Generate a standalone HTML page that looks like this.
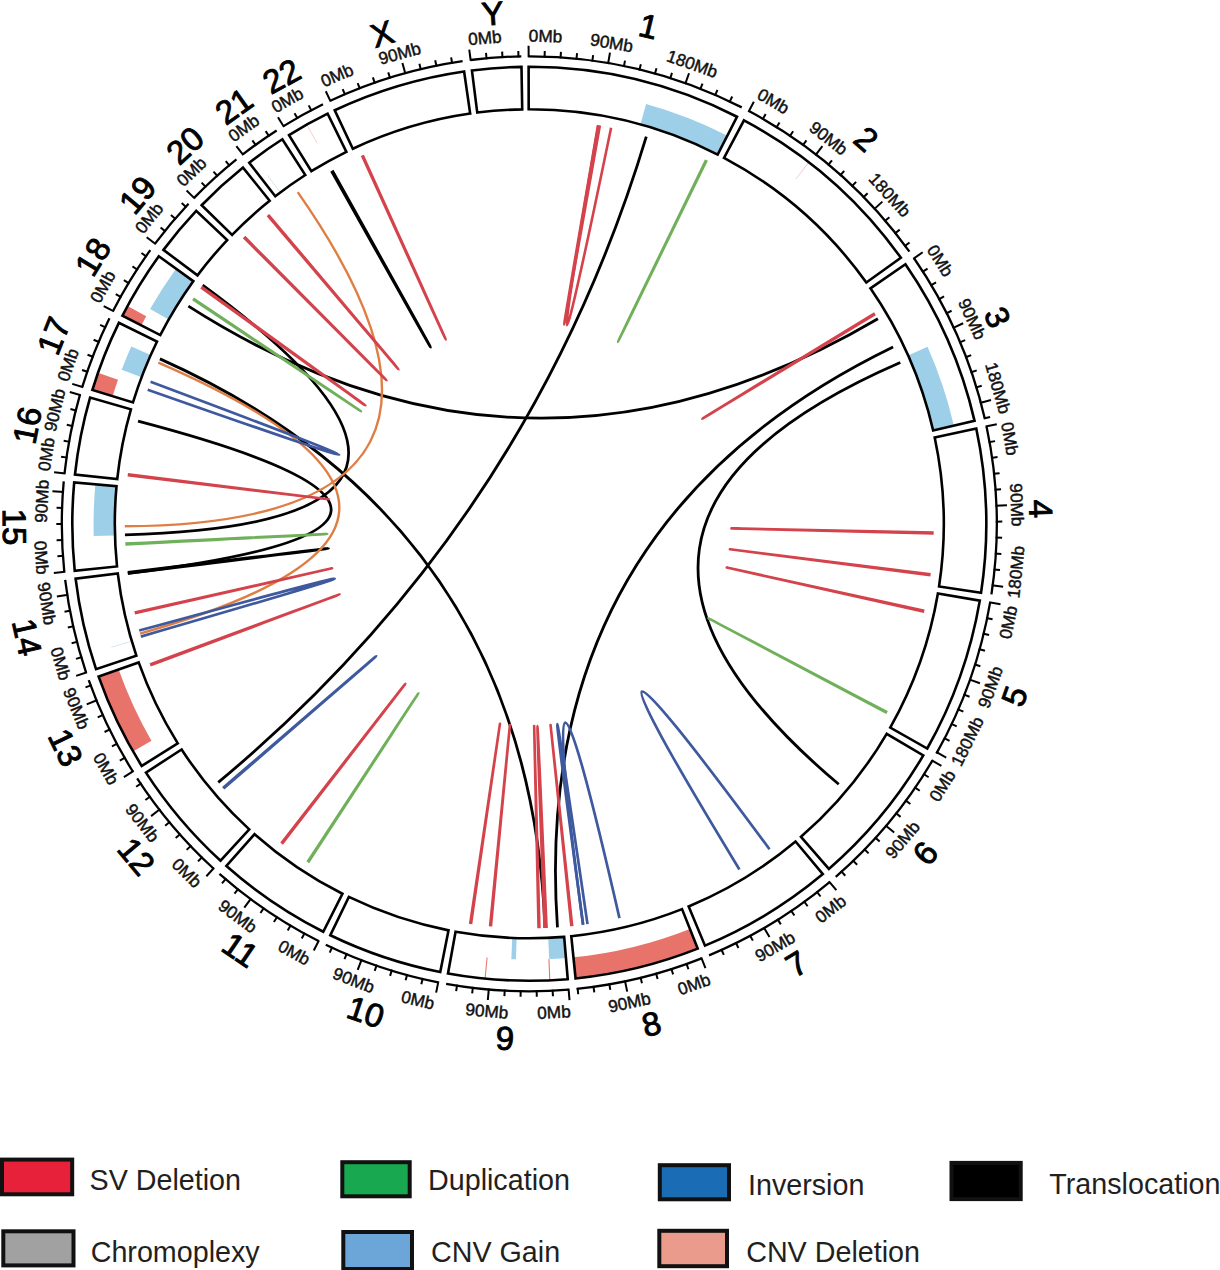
<!DOCTYPE html>
<html><head><meta charset="utf-8"><style>
html,body{margin:0;padding:0;background:#fff;}
body{width:1220px;height:1270px;position:relative;overflow:hidden;font-family:"Liberation Sans",sans-serif;}
svg{position:absolute;left:0;top:0;}
.tl{font-family:"Liberation Sans",sans-serif;font-size:17.2px;text-anchor:middle;fill:#111;stroke:#111;stroke-width:0.45px;}
.cl{font-family:"Liberation Sans",sans-serif;font-size:33px;text-anchor:middle;fill:#000;stroke:#000;stroke-width:0.9px;}
.lt{font-family:"Liberation Sans",sans-serif;font-size:28.7px;fill:#231f20;}
</style></head><body>
<svg width="1220" height="1270" viewBox="0 0 1220 1270">
<path d="M528.62,66.80 A457.0,457.0 0 0 1 736.99,116.72 L717.68,154.58 A414.5,414.5 0 0 0 528.69,109.30 Z" fill="#fff"/>
<path d="M743.98,120.37 A457.0,457.0 0 0 1 900.88,257.76 L866.32,282.50 A414.5,414.5 0 0 0 724.02,157.88 Z" fill="#fff"/>
<path d="M905.41,264.21 A457.0,457.0 0 0 1 974.56,420.88 L933.15,430.45 A414.5,414.5 0 0 0 870.44,288.35 Z" fill="#fff"/>
<path d="M976.27,428.58 A457.0,457.0 0 0 1 981.05,592.86 L939.04,586.43 A414.5,414.5 0 0 0 934.70,437.43 Z" fill="#fff"/>
<path d="M979.79,600.64 A457.0,457.0 0 0 1 927.24,748.51 L890.23,727.61 A414.5,414.5 0 0 0 937.90,593.49 Z" fill="#fff"/>
<path d="M923.30,755.34 A457.0,457.0 0 0 1 828.85,868.94 L800.99,836.84 A414.5,414.5 0 0 0 886.66,733.81 Z" fill="#fff"/>
<path d="M822.85,874.05 A457.0,457.0 0 0 1 705.00,945.67 L688.66,906.44 A414.5,414.5 0 0 0 795.55,841.48 Z" fill="#fff"/>
<path d="M697.70,948.64 A457.0,457.0 0 0 1 575.60,978.45 L571.29,936.17 A414.5,414.5 0 0 0 682.04,909.13 Z" fill="#fff"/>
<path d="M567.74,979.18 A457.0,457.0 0 0 1 448.00,973.51 L455.56,931.69 A414.5,414.5 0 0 0 564.17,936.83 Z" fill="#fff"/>
<path d="M440.25,972.04 A457.0,457.0 0 0 1 330.33,935.21 L348.84,896.95 A414.5,414.5 0 0 0 448.53,930.35 Z" fill="#fff"/>
<path d="M323.26,931.72 A457.0,457.0 0 0 1 226.41,866.01 L254.58,834.19 A414.5,414.5 0 0 0 342.42,893.78 Z" fill="#fff"/>
<path d="M220.56,860.74 A457.0,457.0 0 0 1 145.96,772.59 L181.61,749.46 A414.5,414.5 0 0 0 249.27,829.40 Z" fill="#fff"/>
<path d="M141.72,765.94 A457.0,457.0 0 0 1 98.62,676.64 L138.67,662.43 A414.5,414.5 0 0 0 177.77,743.42 Z" fill="#fff"/>
<path d="M96.04,669.19 A457.0,457.0 0 0 1 75.60,578.64 L117.79,573.54 A414.5,414.5 0 0 0 136.34,655.67 Z" fill="#fff"/>
<path d="M74.72,570.80 A457.0,457.0 0 0 1 74.18,482.34 L116.51,486.19 A414.5,414.5 0 0 0 117.00,566.43 Z" fill="#fff"/>
<path d="M74.97,474.49 A457.0,457.0 0 0 1 90.08,397.57 L130.92,409.31 A414.5,414.5 0 0 0 117.22,479.07 Z" fill="#fff"/>
<path d="M92.32,390.01 A457.0,457.0 0 0 1 118.87,322.81 L157.04,341.51 A414.5,414.5 0 0 0 132.96,402.46 Z" fill="#fff"/>
<path d="M122.40,315.76 A457.0,457.0 0 0 1 158.80,256.26 L193.26,281.14 A414.5,414.5 0 0 0 160.24,335.11 Z" fill="#fff"/>
<path d="M163.47,249.90 A457.0,457.0 0 0 1 196.20,210.92 L227.18,240.02 A414.5,414.5 0 0 0 197.49,275.38 Z" fill="#fff"/>
<path d="M201.65,205.22 A457.0,457.0 0 0 1 243.03,167.57 L269.65,200.70 A414.5,414.5 0 0 0 232.12,234.85 Z" fill="#fff"/>
<path d="M249.22,162.68 A457.0,457.0 0 0 1 282.35,139.27 L305.31,175.03 A414.5,414.5 0 0 0 275.27,196.27 Z" fill="#fff"/>
<path d="M289.02,135.07 A457.0,457.0 0 0 1 327.63,113.70 L346.39,151.84 A414.5,414.5 0 0 0 311.36,171.22 Z" fill="#fff"/>
<path d="M334.74,110.28 A457.0,457.0 0 0 1 464.11,71.47 L470.17,113.54 A414.5,414.5 0 0 0 352.83,148.74 Z" fill="#fff"/>
<path d="M471.92,70.42 A457.0,457.0 0 0 1 521.49,66.87 L522.21,109.36 A414.5,414.5 0 0 0 477.26,112.58 Z" fill="#fff"/>
<path d="M646.08,103.99 A435.75,435.75 0 0 1 727.34,135.65 L717.68,154.58 A414.5,414.5 0 0 0 640.38,124.46 Z" fill="#9dcfe8"/>
<path d="M808.57,162.06 A457.0,457.0 0 0 1 808.99,162.38 L795.98,179.19 A435.75,435.75 0 0 0 795.59,178.88 Z" fill="#ebb3ad"/>
<path d="M927.50,346.84 A435.75,435.75 0 0 1 953.86,425.67 L933.15,430.45 A414.5,414.5 0 0 0 908.08,355.47 Z" fill="#9dcfe8"/>
<path d="M697.70,948.64 A457.0,457.0 0 0 1 575.60,978.45 L573.44,957.31 A435.75,435.75 0 0 0 689.87,928.89 Z" fill="#e8736b"/>
<path d="M565.96,958.01 A435.75,435.75 0 0 1 549.18,959.10 L548.21,937.87 A414.5,414.5 0 0 0 564.17,936.83 Z" fill="#9dcfe8"/>
<path d="M515.97,959.35 A435.75,435.75 0 0 1 511.33,959.18 L512.21,937.95 A414.5,414.5 0 0 0 516.62,938.11 Z" fill="#9dcfe8"/>
<path d="M550.41,980.31 A457.0,457.0 0 0 1 549.28,980.36 L548.35,959.13 A435.75,435.75 0 0 0 549.43,959.08 Z" fill="#e8736b"/>
<path d="M485.59,978.70 A457.0,457.0 0 0 1 484.55,978.60 L486.63,957.46 A435.75,435.75 0 0 0 487.62,957.55 Z" fill="#e8736b"/>
<path d="M133.01,751.41 A457.0,457.0 0 0 1 98.62,676.65 L118.64,669.54 A435.75,435.75 0 0 0 151.44,740.83 Z" fill="#e8736b"/>
<path d="M111.50,647.58 A435.75,435.75 0 0 1 111.36,647.10 L131.74,641.09 A414.5,414.5 0 0 0 131.87,641.54 Z" fill="#b3d3df"/>
<path d="M93.72,535.97 A435.75,435.75 0 0 1 95.35,484.26 L116.51,486.19 A414.5,414.5 0 0 0 114.96,535.38 Z" fill="#9dcfe8"/>
<path d="M92.32,390.01 A457.0,457.0 0 0 1 97.95,372.85 L118.01,379.86 A435.75,435.75 0 0 0 112.64,396.24 Z" fill="#e8736b"/>
<path d="M121.69,369.75 A435.75,435.75 0 0 1 131.27,346.46 L150.68,355.11 A414.5,414.5 0 0 0 141.57,377.26 Z" fill="#9dcfe8"/>
<path d="M122.40,315.76 A457.0,457.0 0 0 1 127.54,306.00 L146.22,316.13 A435.75,435.75 0 0 0 141.32,325.44 Z" fill="#e8736b"/>
<path d="M150.11,309.10 A435.75,435.75 0 0 1 176.03,268.70 L193.25,281.14 A414.5,414.5 0 0 0 168.61,319.57 Z" fill="#9dcfe8"/>
<path d="M267.31,175.60 A435.75,435.75 0 0 1 267.71,175.31 L280.47,192.30 A414.5,414.5 0 0 0 280.09,192.58 Z" fill="#b3d3df"/>
<path d="M306.54,124.77 A457.0,457.0 0 0 1 307.00,124.51 L317.33,143.08 A435.75,435.75 0 0 0 316.90,143.32 Z" fill="#ebb3ad"/>
<path d="M528.62,66.80 A457.0,457.0 0 0 1 736.99,116.72 L717.68,154.58 A414.5,414.5 0 0 0 528.69,109.30 Z" fill="none" stroke="#000" stroke-width="2.6" stroke-linejoin="miter"/>
<path d="M743.98,120.37 A457.0,457.0 0 0 1 900.88,257.76 L866.32,282.50 A414.5,414.5 0 0 0 724.02,157.88 Z" fill="none" stroke="#000" stroke-width="2.6" stroke-linejoin="miter"/>
<path d="M905.41,264.21 A457.0,457.0 0 0 1 974.56,420.88 L933.15,430.45 A414.5,414.5 0 0 0 870.44,288.35 Z" fill="none" stroke="#000" stroke-width="2.6" stroke-linejoin="miter"/>
<path d="M976.27,428.58 A457.0,457.0 0 0 1 981.05,592.86 L939.04,586.43 A414.5,414.5 0 0 0 934.70,437.43 Z" fill="none" stroke="#000" stroke-width="2.6" stroke-linejoin="miter"/>
<path d="M979.79,600.64 A457.0,457.0 0 0 1 927.24,748.51 L890.23,727.61 A414.5,414.5 0 0 0 937.90,593.49 Z" fill="none" stroke="#000" stroke-width="2.6" stroke-linejoin="miter"/>
<path d="M923.30,755.34 A457.0,457.0 0 0 1 828.85,868.94 L800.99,836.84 A414.5,414.5 0 0 0 886.66,733.81 Z" fill="none" stroke="#000" stroke-width="2.6" stroke-linejoin="miter"/>
<path d="M822.85,874.05 A457.0,457.0 0 0 1 705.00,945.67 L688.66,906.44 A414.5,414.5 0 0 0 795.55,841.48 Z" fill="none" stroke="#000" stroke-width="2.6" stroke-linejoin="miter"/>
<path d="M697.70,948.64 A457.0,457.0 0 0 1 575.60,978.45 L571.29,936.17 A414.5,414.5 0 0 0 682.04,909.13 Z" fill="none" stroke="#000" stroke-width="2.6" stroke-linejoin="miter"/>
<path d="M567.74,979.18 A457.0,457.0 0 0 1 448.00,973.51 L455.56,931.69 A414.5,414.5 0 0 0 564.17,936.83 Z" fill="none" stroke="#000" stroke-width="2.6" stroke-linejoin="miter"/>
<path d="M440.25,972.04 A457.0,457.0 0 0 1 330.33,935.21 L348.84,896.95 A414.5,414.5 0 0 0 448.53,930.35 Z" fill="none" stroke="#000" stroke-width="2.6" stroke-linejoin="miter"/>
<path d="M323.26,931.72 A457.0,457.0 0 0 1 226.41,866.01 L254.58,834.19 A414.5,414.5 0 0 0 342.42,893.78 Z" fill="none" stroke="#000" stroke-width="2.6" stroke-linejoin="miter"/>
<path d="M220.56,860.74 A457.0,457.0 0 0 1 145.96,772.59 L181.61,749.46 A414.5,414.5 0 0 0 249.27,829.40 Z" fill="none" stroke="#000" stroke-width="2.6" stroke-linejoin="miter"/>
<path d="M141.72,765.94 A457.0,457.0 0 0 1 98.62,676.64 L138.67,662.43 A414.5,414.5 0 0 0 177.77,743.42 Z" fill="none" stroke="#000" stroke-width="2.6" stroke-linejoin="miter"/>
<path d="M96.04,669.19 A457.0,457.0 0 0 1 75.60,578.64 L117.79,573.54 A414.5,414.5 0 0 0 136.34,655.67 Z" fill="none" stroke="#000" stroke-width="2.6" stroke-linejoin="miter"/>
<path d="M74.72,570.80 A457.0,457.0 0 0 1 74.18,482.34 L116.51,486.19 A414.5,414.5 0 0 0 117.00,566.43 Z" fill="none" stroke="#000" stroke-width="2.6" stroke-linejoin="miter"/>
<path d="M74.97,474.49 A457.0,457.0 0 0 1 90.08,397.57 L130.92,409.31 A414.5,414.5 0 0 0 117.22,479.07 Z" fill="none" stroke="#000" stroke-width="2.6" stroke-linejoin="miter"/>
<path d="M92.32,390.01 A457.0,457.0 0 0 1 118.87,322.81 L157.04,341.51 A414.5,414.5 0 0 0 132.96,402.46 Z" fill="none" stroke="#000" stroke-width="2.6" stroke-linejoin="miter"/>
<path d="M122.40,315.76 A457.0,457.0 0 0 1 158.80,256.26 L193.26,281.14 A414.5,414.5 0 0 0 160.24,335.11 Z" fill="none" stroke="#000" stroke-width="2.6" stroke-linejoin="miter"/>
<path d="M163.47,249.90 A457.0,457.0 0 0 1 196.20,210.92 L227.18,240.02 A414.5,414.5 0 0 0 197.49,275.38 Z" fill="none" stroke="#000" stroke-width="2.6" stroke-linejoin="miter"/>
<path d="M201.65,205.22 A457.0,457.0 0 0 1 243.03,167.57 L269.65,200.70 A414.5,414.5 0 0 0 232.12,234.85 Z" fill="none" stroke="#000" stroke-width="2.6" stroke-linejoin="miter"/>
<path d="M249.22,162.68 A457.0,457.0 0 0 1 282.35,139.27 L305.31,175.03 A414.5,414.5 0 0 0 275.27,196.27 Z" fill="none" stroke="#000" stroke-width="2.6" stroke-linejoin="miter"/>
<path d="M289.02,135.07 A457.0,457.0 0 0 1 327.63,113.70 L346.39,151.84 A414.5,414.5 0 0 0 311.36,171.22 Z" fill="none" stroke="#000" stroke-width="2.6" stroke-linejoin="miter"/>
<path d="M334.74,110.28 A457.0,457.0 0 0 1 464.11,71.47 L470.17,113.54 A414.5,414.5 0 0 0 352.83,148.74 Z" fill="none" stroke="#000" stroke-width="2.6" stroke-linejoin="miter"/>
<path d="M471.92,70.42 A457.0,457.0 0 0 1 521.49,66.87 L522.21,109.36 A414.5,414.5 0 0 0 477.26,112.58 Z" fill="none" stroke="#000" stroke-width="2.6" stroke-linejoin="miter"/>
<path d="M528.61,56.30 A467.5,467.5 0 0 1 741.76,107.37" fill="none" stroke="#000" stroke-width="2.3"/>
<line x1="528.61" y1="57.30" x2="528.59" y2="45.80" stroke="#000" stroke-width="2"/>
<text x="545.31" y="42.07" transform="rotate(1.90 545.31 42.07)" class="tl">0Mb</text>
<line x1="544.57" y1="57.55" x2="544.78" y2="51.05" stroke="#000" stroke-width="2"/>
<line x1="560.51" y1="58.35" x2="560.94" y2="51.86" stroke="#000" stroke-width="2"/>
<line x1="576.41" y1="59.69" x2="577.07" y2="53.22" stroke="#000" stroke-width="2"/>
<line x1="592.26" y1="61.57" x2="593.14" y2="55.13" stroke="#000" stroke-width="2"/>
<line x1="608.04" y1="63.99" x2="609.98" y2="52.66" stroke="#000" stroke-width="2"/>
<text x="610.66" y="48.72" transform="rotate(9.72 610.66 48.72)" class="tl">90Mb</text>
<line x1="623.73" y1="66.96" x2="625.04" y2="60.59" stroke="#000" stroke-width="2"/>
<line x1="639.30" y1="70.45" x2="640.83" y2="64.14" stroke="#000" stroke-width="2"/>
<line x1="654.74" y1="74.48" x2="656.49" y2="68.22" stroke="#000" stroke-width="2"/>
<line x1="670.04" y1="79.04" x2="672.00" y2="72.84" stroke="#000" stroke-width="2"/>
<line x1="685.17" y1="84.11" x2="689.02" y2="73.27" stroke="#000" stroke-width="2"/>
<text x="690.35" y="69.50" transform="rotate(19.52 690.35 69.50)" class="tl">180Mb</text>
<line x1="700.13" y1="89.70" x2="702.51" y2="83.65" stroke="#000" stroke-width="2"/>
<line x1="714.88" y1="95.80" x2="717.46" y2="89.84" stroke="#000" stroke-width="2"/>
<line x1="729.41" y1="102.40" x2="732.20" y2="96.53" stroke="#000" stroke-width="2"/>
<text x="648.59" y="25.89" dy="0.36em" transform="rotate(13.47 648.59 25.89)" class="cl">1</text>
<path d="M748.92,111.10 A467.5,467.5 0 0 1 909.42,251.65" fill="none" stroke="#000" stroke-width="2.3"/>
<line x1="748.45" y1="111.98" x2="753.85" y2="101.83" stroke="#000" stroke-width="2"/>
<text x="770.36" y="106.41" transform="rotate(30.01 770.36 106.41)" class="tl">0Mb</text>
<line x1="762.41" y1="119.72" x2="765.66" y2="114.09" stroke="#000" stroke-width="2"/>
<line x1="776.09" y1="127.93" x2="779.53" y2="122.41" stroke="#000" stroke-width="2"/>
<line x1="789.49" y1="136.60" x2="793.12" y2="131.21" stroke="#000" stroke-width="2"/>
<line x1="802.59" y1="145.73" x2="806.40" y2="140.46" stroke="#000" stroke-width="2"/>
<line x1="815.36" y1="155.30" x2="822.41" y2="146.22" stroke="#000" stroke-width="2"/>
<text x="824.87" y="143.06" transform="rotate(37.82 824.87 143.06)" class="tl">90Mb</text>
<line x1="827.80" y1="165.30" x2="831.96" y2="160.31" stroke="#000" stroke-width="2"/>
<line x1="839.89" y1="175.73" x2="844.22" y2="170.88" stroke="#000" stroke-width="2"/>
<line x1="851.62" y1="186.55" x2="856.11" y2="181.86" stroke="#000" stroke-width="2"/>
<line x1="862.96" y1="197.78" x2="867.61" y2="193.24" stroke="#000" stroke-width="2"/>
<line x1="873.92" y1="209.38" x2="882.42" y2="201.63" stroke="#000" stroke-width="2"/>
<text x="885.37" y="198.94" transform="rotate(47.62 885.37 198.94)" class="tl">180Mb</text>
<line x1="884.48" y1="221.36" x2="889.43" y2="217.14" stroke="#000" stroke-width="2"/>
<line x1="894.62" y1="233.69" x2="899.71" y2="229.64" stroke="#000" stroke-width="2"/>
<line x1="904.33" y1="246.35" x2="909.55" y2="242.49" stroke="#000" stroke-width="2"/>
<text x="866.61" y="138.62" dy="0.36em" transform="rotate(41.21 866.61 138.62)" class="cl">2</text>
<path d="M914.06,258.25 A467.5,467.5 0 0 1 984.79,418.51" fill="none" stroke="#000" stroke-width="2.3"/>
<line x1="913.23" y1="258.81" x2="922.70" y2="252.28" stroke="#000" stroke-width="2"/>
<text x="935.25" y="263.94" transform="rotate(57.38 935.25 263.94)" class="tl">0Mb</text>
<line x1="922.07" y1="272.10" x2="927.55" y2="268.60" stroke="#000" stroke-width="2"/>
<line x1="930.45" y1="285.69" x2="936.04" y2="282.37" stroke="#000" stroke-width="2"/>
<line x1="938.37" y1="299.55" x2="944.07" y2="296.43" stroke="#000" stroke-width="2"/>
<line x1="945.80" y1="313.68" x2="951.60" y2="310.75" stroke="#000" stroke-width="2"/>
<line x1="952.74" y1="328.05" x2="963.18" y2="323.22" stroke="#000" stroke-width="2"/>
<text x="966.81" y="321.54" transform="rotate(65.19 966.81 321.54)" class="tl">90Mb</text>
<line x1="959.19" y1="342.65" x2="965.18" y2="340.12" stroke="#000" stroke-width="2"/>
<line x1="965.14" y1="357.46" x2="971.21" y2="355.14" stroke="#000" stroke-width="2"/>
<line x1="970.57" y1="372.47" x2="976.72" y2="370.36" stroke="#000" stroke-width="2"/>
<line x1="975.49" y1="387.65" x2="981.71" y2="385.76" stroke="#000" stroke-width="2"/>
<line x1="979.89" y1="403.00" x2="991.00" y2="400.02" stroke="#000" stroke-width="2"/>
<text x="992.30" y="389.81" transform="rotate(73.86 992.30 389.81)" class="tl">180Mb</text>
<line x1="983.76" y1="418.48" x2="990.09" y2="417.02" stroke="#000" stroke-width="2"/>
<text x="997.71" y="317.07" dy="0.36em" transform="rotate(66.19 997.71 317.07)" class="cl">3</text>
<path d="M986.54,426.39 A467.5,467.5 0 0 1 991.43,594.44" fill="none" stroke="#000" stroke-width="2.3"/>
<line x1="985.56" y1="426.60" x2="996.81" y2="424.20" stroke="#000" stroke-width="2"/>
<text x="1003.92" y="439.79" transform="rotate(79.96 1003.92 439.79)" class="tl">0Mb</text>
<line x1="988.62" y1="442.26" x2="995.02" y2="441.13" stroke="#000" stroke-width="2"/>
<line x1="991.14" y1="458.02" x2="997.57" y2="457.11" stroke="#000" stroke-width="2"/>
<line x1="993.12" y1="473.86" x2="999.58" y2="473.17" stroke="#000" stroke-width="2"/>
<line x1="994.56" y1="489.76" x2="1001.04" y2="489.29" stroke="#000" stroke-width="2"/>
<line x1="995.45" y1="505.70" x2="1006.94" y2="505.25" stroke="#000" stroke-width="2"/>
<text x="1010.94" y="505.10" transform="rotate(87.78 1010.94 505.10)" class="tl">90Mb</text>
<line x1="995.80" y1="521.65" x2="1002.29" y2="521.62" stroke="#000" stroke-width="2"/>
<line x1="995.60" y1="537.61" x2="1002.09" y2="537.81" stroke="#000" stroke-width="2"/>
<line x1="994.85" y1="553.56" x2="1001.34" y2="553.97" stroke="#000" stroke-width="2"/>
<line x1="993.56" y1="569.47" x2="1000.03" y2="570.10" stroke="#000" stroke-width="2"/>
<line x1="991.73" y1="585.32" x2="1003.12" y2="586.84" stroke="#000" stroke-width="2"/>
<text x="1021.90" y="572.52" transform="rotate(-84.35 1021.90 572.52)" class="tl">180Mb</text>
<text x="1041.08" y="508.90" dy="0.36em" transform="rotate(88.33 1041.08 508.90)" class="cl">4</text>
<path d="M990.14,602.41 A467.5,467.5 0 0 1 936.38,753.67" fill="none" stroke="#000" stroke-width="2.3"/>
<line x1="989.16" y1="602.24" x2="1000.49" y2="604.17" stroke="#000" stroke-width="2"/>
<text x="1014.16" y="623.47" transform="rotate(-78.38 1014.16 623.47)" class="tl">0Mb</text>
<line x1="986.21" y1="617.92" x2="992.57" y2="619.24" stroke="#000" stroke-width="2"/>
<line x1="982.72" y1="633.50" x2="989.04" y2="635.03" stroke="#000" stroke-width="2"/>
<line x1="978.70" y1="648.95" x2="984.96" y2="650.69" stroke="#000" stroke-width="2"/>
<line x1="974.16" y1="664.25" x2="980.35" y2="666.21" stroke="#000" stroke-width="2"/>
<line x1="969.09" y1="679.38" x2="979.93" y2="683.22" stroke="#000" stroke-width="2"/>
<text x="995.96" y="688.89" transform="rotate(-70.52 995.96 688.89)" class="tl">90Mb</text>
<line x1="963.51" y1="694.34" x2="969.56" y2="696.72" stroke="#000" stroke-width="2"/>
<line x1="957.42" y1="709.09" x2="963.39" y2="711.68" stroke="#000" stroke-width="2"/>
<line x1="950.83" y1="723.63" x2="956.71" y2="726.42" stroke="#000" stroke-width="2"/>
<line x1="943.75" y1="737.94" x2="949.52" y2="740.92" stroke="#000" stroke-width="2"/>
<line x1="936.18" y1="751.99" x2="946.21" y2="757.61" stroke="#000" stroke-width="2"/>
<text x="972.64" y="743.97" transform="rotate(-63.59 972.64 743.97)" class="tl">180Mb</text>
<text x="1014.09" y="696.10" dy="0.36em" transform="rotate(-70.43 1014.09 696.10)" class="cl">5</text>
<path d="M932.36,760.66 A467.5,467.5 0 0 1 835.73,876.87" fill="none" stroke="#000" stroke-width="2.3"/>
<line x1="931.49" y1="760.15" x2="941.41" y2="765.98" stroke="#000" stroke-width="2"/>
<text x="947.35" y="788.87" transform="rotate(-57.62 947.35 788.87)" class="tl">0Mb</text>
<line x1="923.17" y1="773.77" x2="928.66" y2="777.26" stroke="#000" stroke-width="2"/>
<line x1="914.39" y1="787.10" x2="919.76" y2="790.77" stroke="#000" stroke-width="2"/>
<line x1="905.16" y1="800.12" x2="910.39" y2="803.97" stroke="#000" stroke-width="2"/>
<line x1="895.48" y1="812.82" x2="900.59" y2="816.85" stroke="#000" stroke-width="2"/>
<line x1="885.38" y1="825.18" x2="894.16" y2="832.61" stroke="#000" stroke-width="2"/>
<text x="907.14" y="843.59" transform="rotate(-49.76 907.14 843.59)" class="tl">90Mb</text>
<line x1="874.86" y1="837.18" x2="879.68" y2="841.55" stroke="#000" stroke-width="2"/>
<line x1="863.94" y1="848.82" x2="868.60" y2="853.35" stroke="#000" stroke-width="2"/>
<line x1="852.62" y1="860.08" x2="857.13" y2="864.76" stroke="#000" stroke-width="2"/>
<line x1="840.93" y1="870.94" x2="845.27" y2="875.78" stroke="#000" stroke-width="2"/>
<text x="924.91" y="852.74" dy="0.36em" transform="rotate(-50.26 924.91 852.74)" class="cl">6</text>
<path d="M829.59,882.10 A467.5,467.5 0 0 1 709.04,955.37" fill="none" stroke="#000" stroke-width="2.3"/>
<line x1="828.95" y1="881.33" x2="836.34" y2="890.15" stroke="#000" stroke-width="2"/>
<text x="834.26" y="913.70" transform="rotate(-38.03 834.26 913.70)" class="tl">0Mb</text>
<line x1="816.55" y1="891.38" x2="820.55" y2="896.50" stroke="#000" stroke-width="2"/>
<line x1="803.80" y1="900.99" x2="807.63" y2="906.24" stroke="#000" stroke-width="2"/>
<line x1="790.74" y1="910.16" x2="794.38" y2="915.54" stroke="#000" stroke-width="2"/>
<line x1="777.37" y1="918.88" x2="780.82" y2="924.38" stroke="#000" stroke-width="2"/>
<line x1="763.71" y1="927.13" x2="769.48" y2="937.07" stroke="#000" stroke-width="2"/>
<text x="778.03" y="951.77" transform="rotate(-30.16 778.03 951.77)" class="tl">90Mb</text>
<line x1="749.77" y1="934.91" x2="752.84" y2="940.64" stroke="#000" stroke-width="2"/>
<line x1="735.58" y1="942.22" x2="738.45" y2="948.05" stroke="#000" stroke-width="2"/>
<line x1="721.14" y1="949.03" x2="723.81" y2="954.95" stroke="#000" stroke-width="2"/>
<text x="796.51" y="963.47" dy="0.36em" transform="rotate(-31.29 796.51 963.47)" class="cl">7</text>
<path d="M701.57,958.40 A467.5,467.5 0 0 1 576.66,988.89" fill="none" stroke="#000" stroke-width="2.3"/>
<line x1="701.20" y1="957.47" x2="705.44" y2="968.16" stroke="#000" stroke-width="2"/>
<text x="696.05" y="989.87" transform="rotate(-19.69 696.05 989.87)" class="tl">0Mb</text>
<line x1="686.26" y1="963.10" x2="688.45" y2="969.22" stroke="#000" stroke-width="2"/>
<line x1="671.14" y1="968.21" x2="673.12" y2="974.41" stroke="#000" stroke-width="2"/>
<line x1="655.86" y1="972.81" x2="657.62" y2="979.06" stroke="#000" stroke-width="2"/>
<line x1="640.42" y1="976.87" x2="641.97" y2="983.19" stroke="#000" stroke-width="2"/>
<line x1="624.86" y1="980.41" x2="627.21" y2="991.66" stroke="#000" stroke-width="2"/>
<text x="630.69" y="1008.30" transform="rotate(-11.82 630.69 1008.30)" class="tl">90Mb</text>
<line x1="609.18" y1="983.41" x2="610.29" y2="989.81" stroke="#000" stroke-width="2"/>
<line x1="593.41" y1="985.87" x2="594.30" y2="992.31" stroke="#000" stroke-width="2"/>
<line x1="577.56" y1="987.80" x2="578.24" y2="994.26" stroke="#000" stroke-width="2"/>
<text x="651.31" y="1023.62" dy="0.36em" transform="rotate(-13.72 651.31 1023.62)" class="cl">8</text>
<path d="M568.63,989.64 A467.5,467.5 0 0 1 446.13,983.84" fill="none" stroke="#000" stroke-width="2.3"/>
<line x1="568.54" y1="988.65" x2="569.51" y2="1000.11" stroke="#000" stroke-width="2"/>
<text x="554.25" y="1018.17" transform="rotate(-2.89 554.25 1018.17)" class="tl">0Mb</text>
<line x1="552.62" y1="989.72" x2="552.94" y2="996.21" stroke="#000" stroke-width="2"/>
<line x1="536.67" y1="990.24" x2="536.77" y2="996.74" stroke="#000" stroke-width="2"/>
<line x1="520.70" y1="990.22" x2="520.58" y2="996.72" stroke="#000" stroke-width="2"/>
<line x1="504.75" y1="989.65" x2="504.41" y2="996.14" stroke="#000" stroke-width="2"/>
<line x1="488.83" y1="988.54" x2="487.83" y2="1000.00" stroke="#000" stroke-width="2"/>
<text x="486.36" y="1016.93" transform="rotate(4.98 486.36 1016.93)" class="tl">90Mb</text>
<line x1="472.95" y1="986.88" x2="472.17" y2="993.34" stroke="#000" stroke-width="2"/>
<line x1="457.14" y1="984.69" x2="456.14" y2="991.11" stroke="#000" stroke-width="2"/>
<text x="504.96" y="1037.72" dy="0.36em" transform="rotate(2.71 504.96 1037.72)" class="cl">9</text>
<path d="M438.20,982.34 A467.5,467.5 0 0 1 325.76,944.67" fill="none" stroke="#000" stroke-width="2.3"/>
<line x1="438.40" y1="981.36" x2="436.16" y2="992.64" stroke="#000" stroke-width="2"/>
<text x="416.50" y="1005.78" transform="rotate(13.17 416.50 1005.78)" class="tl">0Mb</text>
<line x1="422.80" y1="977.98" x2="421.31" y2="984.31" stroke="#000" stroke-width="2"/>
<line x1="407.32" y1="974.07" x2="405.62" y2="980.34" stroke="#000" stroke-width="2"/>
<line x1="391.99" y1="969.63" x2="390.08" y2="975.85" stroke="#000" stroke-width="2"/>
<line x1="376.82" y1="964.68" x2="374.69" y2="970.82" stroke="#000" stroke-width="2"/>
<line x1="361.82" y1="959.20" x2="357.70" y2="969.93" stroke="#000" stroke-width="2"/>
<text x="351.59" y="985.80" transform="rotate(21.04 351.59 985.80)" class="tl">90Mb</text>
<line x1="347.03" y1="953.22" x2="344.49" y2="959.20" stroke="#000" stroke-width="2"/>
<line x1="332.44" y1="946.73" x2="329.70" y2="952.62" stroke="#000" stroke-width="2"/>
<text x="365.85" y="1011.65" dy="0.36em" transform="rotate(18.52 365.85 1011.65)" class="cl">10</text>
<path d="M318.53,941.09 A467.5,467.5 0 0 1 219.46,873.88" fill="none" stroke="#000" stroke-width="2.3"/>
<line x1="318.98" y1="940.20" x2="313.79" y2="950.46" stroke="#000" stroke-width="2"/>
<text x="291.33" y="957.85" transform="rotate(28.73 291.33 957.85)" class="tl">0Mb</text>
<line x1="304.86" y1="932.76" x2="301.73" y2="938.46" stroke="#000" stroke-width="2"/>
<line x1="291.00" y1="924.84" x2="287.68" y2="930.43" stroke="#000" stroke-width="2"/>
<line x1="277.42" y1="916.45" x2="273.91" y2="921.93" stroke="#000" stroke-width="2"/>
<line x1="264.13" y1="907.61" x2="260.44" y2="912.96" stroke="#000" stroke-width="2"/>
<line x1="251.16" y1="898.31" x2="244.30" y2="907.54" stroke="#000" stroke-width="2"/>
<text x="234.16" y="921.19" transform="rotate(36.60 234.16 921.19)" class="tl">90Mb</text>
<line x1="238.51" y1="888.58" x2="234.46" y2="893.66" stroke="#000" stroke-width="2"/>
<line x1="226.20" y1="878.41" x2="221.98" y2="883.36" stroke="#000" stroke-width="2"/>
<text x="240.44" y="949.56" dy="0.36em" transform="rotate(34.15 240.44 949.56)" class="cl">11</text>
<path d="M213.46,868.48 A467.5,467.5 0 0 1 137.15,778.31" fill="none" stroke="#000" stroke-width="2.3"/>
<line x1="214.14" y1="867.74" x2="206.37" y2="876.22" stroke="#000" stroke-width="2"/>
<text x="182.74" y="877.25" transform="rotate(44.44 182.74 877.25)" class="tl">0Mb</text>
<line x1="202.56" y1="856.76" x2="198.00" y2="861.40" stroke="#000" stroke-width="2"/>
<line x1="191.36" y1="845.38" x2="186.65" y2="849.86" stroke="#000" stroke-width="2"/>
<line x1="180.55" y1="833.63" x2="175.69" y2="837.95" stroke="#000" stroke-width="2"/>
<line x1="170.16" y1="821.52" x2="165.15" y2="825.67" stroke="#000" stroke-width="2"/>
<line x1="160.18" y1="809.06" x2="151.08" y2="816.09" stroke="#000" stroke-width="2"/>
<text x="137.63" y="826.49" transform="rotate(52.30 137.63 826.49)" class="tl">90Mb</text>
<line x1="150.64" y1="796.27" x2="145.36" y2="800.06" stroke="#000" stroke-width="2"/>
<line x1="141.54" y1="783.15" x2="136.14" y2="786.77" stroke="#000" stroke-width="2"/>
<text x="136.57" y="856.18" dy="0.36em" transform="rotate(49.76 136.57 856.18)" class="cl">12</text>
<path d="M132.82,771.50 A467.5,467.5 0 0 1 88.72,680.16" fill="none" stroke="#000" stroke-width="2.3"/>
<line x1="133.67" y1="770.97" x2="123.91" y2="777.07" stroke="#000" stroke-width="2"/>
<text x="100.87" y="771.74" transform="rotate(59.94 100.87 771.74)" class="tl">0Mb</text>
<line x1="125.44" y1="757.30" x2="119.81" y2="760.55" stroke="#000" stroke-width="2"/>
<line x1="117.69" y1="743.34" x2="111.95" y2="746.40" stroke="#000" stroke-width="2"/>
<line x1="110.42" y1="729.13" x2="104.58" y2="731.99" stroke="#000" stroke-width="2"/>
<line x1="103.64" y1="714.68" x2="97.71" y2="717.34" stroke="#000" stroke-width="2"/>
<line x1="97.36" y1="700.01" x2="86.71" y2="704.35" stroke="#000" stroke-width="2"/>
<text x="70.97" y="710.77" transform="rotate(67.81 70.97 710.77)" class="tl">90Mb</text>
<line x1="91.58" y1="685.13" x2="85.48" y2="687.38" stroke="#000" stroke-width="2"/>
<text x="65.96" y="747.46" dy="0.36em" transform="rotate(64.23 65.96 747.46)" class="cl">13</text>
<path d="M86.09,672.53 A467.5,467.5 0 0 1 65.18,579.90" fill="none" stroke="#000" stroke-width="2.3"/>
<line x1="87.04" y1="672.21" x2="76.13" y2="675.87" stroke="#000" stroke-width="2"/>
<text x="54.97" y="665.33" transform="rotate(73.39 54.97 665.33)" class="tl">0Mb</text>
<line x1="82.22" y1="656.99" x2="75.99" y2="658.85" stroke="#000" stroke-width="2"/>
<line x1="77.92" y1="641.62" x2="71.63" y2="643.26" stroke="#000" stroke-width="2"/>
<line x1="74.16" y1="626.11" x2="67.82" y2="627.54" stroke="#000" stroke-width="2"/>
<line x1="70.92" y1="610.48" x2="64.54" y2="611.69" stroke="#000" stroke-width="2"/>
<line x1="68.23" y1="594.75" x2="56.86" y2="596.50" stroke="#000" stroke-width="2"/>
<text x="40.92" y="604.49" transform="rotate(80.62 40.92 604.49)" class="tl">90Mb</text>
<text x="27.43" y="637.09" dy="0.36em" transform="rotate(77.28 27.43 637.09)" class="cl">14</text>
<path d="M64.28,571.88 A467.5,467.5 0 0 1 63.73,481.38" fill="none" stroke="#000" stroke-width="2.3"/>
<line x1="65.27" y1="571.78" x2="53.83" y2="572.96" stroke="#000" stroke-width="2"/>
<text x="35.49" y="558.04" transform="rotate(86.03 35.49 558.04)" class="tl">0Mb</text>
<line x1="63.90" y1="555.87" x2="57.42" y2="556.32" stroke="#000" stroke-width="2"/>
<line x1="63.08" y1="539.93" x2="56.58" y2="540.16" stroke="#000" stroke-width="2"/>
<line x1="62.80" y1="523.97" x2="56.30" y2="523.98" stroke="#000" stroke-width="2"/>
<line x1="63.07" y1="508.01" x2="56.57" y2="507.79" stroke="#000" stroke-width="2"/>
<line x1="63.88" y1="492.07" x2="52.41" y2="491.29" stroke="#000" stroke-width="2"/>
<text x="47.82" y="501.52" transform="rotate(272.65 47.82 501.52)" class="tl">90Mb</text>
<text x="14.81" y="526.93" dy="0.36em" transform="rotate(89.65 14.81 526.93)" class="cl">15</text>
<path d="M64.53,473.36 A467.5,467.5 0 0 1 79.99,394.67" fill="none" stroke="#000" stroke-width="2.3"/>
<line x1="65.52" y1="473.46" x2="54.09" y2="472.22" stroke="#000" stroke-width="2"/>
<text x="52.21" y="455.20" transform="rotate(278.18 52.21 455.20)" class="tl">0Mb</text>
<line x1="67.52" y1="457.63" x2="61.08" y2="456.70" stroke="#000" stroke-width="2"/>
<line x1="70.05" y1="441.87" x2="63.65" y2="440.73" stroke="#000" stroke-width="2"/>
<line x1="73.12" y1="426.20" x2="66.77" y2="424.84" stroke="#000" stroke-width="2"/>
<line x1="76.73" y1="410.66" x2="70.42" y2="409.08" stroke="#000" stroke-width="2"/>
<line x1="80.86" y1="395.24" x2="69.81" y2="392.07" stroke="#000" stroke-width="2"/>
<text x="60.57" y="411.47" transform="rotate(283.48 60.57 411.47)" class="tl">90Mb</text>
<text x="26.90" y="425.10" dy="0.36em" transform="rotate(281.11 26.90 425.10)" class="cl">16</text>
<path d="M82.28,386.94 A467.5,467.5 0 0 1 109.44,318.20" fill="none" stroke="#000" stroke-width="2.3"/>
<line x1="83.24" y1="387.23" x2="72.24" y2="383.87" stroke="#000" stroke-width="2"/>
<text x="73.59" y="366.79" transform="rotate(289.01 73.59 366.79)" class="tl">0Mb</text>
<line x1="88.17" y1="372.05" x2="82.02" y2="369.94" stroke="#000" stroke-width="2"/>
<line x1="93.62" y1="357.05" x2="87.55" y2="354.73" stroke="#000" stroke-width="2"/>
<line x1="99.58" y1="342.24" x2="93.59" y2="339.71" stroke="#000" stroke-width="2"/>
<line x1="106.04" y1="327.65" x2="100.15" y2="324.92" stroke="#000" stroke-width="2"/>
<text x="53.11" y="335.68" dy="0.36em" transform="rotate(291.56 53.11 335.68)" class="cl">17</text>
<path d="M113.05,310.98 A467.5,467.5 0 0 1 150.29,250.11" fill="none" stroke="#000" stroke-width="2.3"/>
<line x1="113.94" y1="311.44" x2="103.70" y2="306.20" stroke="#000" stroke-width="2"/>
<text x="108.01" y="289.62" transform="rotate(299.07 108.01 289.62)" class="tl">0Mb</text>
<line x1="121.45" y1="297.35" x2="115.76" y2="294.20" stroke="#000" stroke-width="2"/>
<line x1="129.43" y1="283.53" x2="123.86" y2="280.18" stroke="#000" stroke-width="2"/>
<line x1="137.89" y1="269.99" x2="132.43" y2="266.46" stroke="#000" stroke-width="2"/>
<line x1="146.80" y1="256.75" x2="141.47" y2="253.03" stroke="#000" stroke-width="2"/>
<text x="92.54" y="256.61" dy="0.36em" transform="rotate(301.46 92.54 256.61)" class="cl">18</text>
<path d="M155.07,243.61 A467.5,467.5 0 0 1 188.54,203.74" fill="none" stroke="#000" stroke-width="2.3"/>
<line x1="155.87" y1="244.21" x2="146.66" y2="237.32" stroke="#000" stroke-width="2"/>
<text x="153.71" y="221.71" transform="rotate(308.81 153.71 221.71)" class="tl">0Mb</text>
<line x1="165.65" y1="231.60" x2="160.58" y2="227.53" stroke="#000" stroke-width="2"/>
<line x1="175.86" y1="219.33" x2="170.93" y2="215.09" stroke="#000" stroke-width="2"/>
<line x1="186.48" y1="207.42" x2="181.71" y2="203.01" stroke="#000" stroke-width="2"/>
<text x="137.17" y="194.59" dy="0.36em" transform="rotate(310.01 137.17 194.59)" class="cl">19</text>
<path d="M194.12,197.90 A467.5,467.5 0 0 1 236.45,159.39" fill="none" stroke="#000" stroke-width="2.3"/>
<line x1="194.83" y1="198.60" x2="186.59" y2="190.58" stroke="#000" stroke-width="2"/>
<text x="195.59" y="176.01" transform="rotate(316.18 195.59 176.01)" class="tl">0Mb</text>
<line x1="206.16" y1="187.35" x2="201.65" y2="182.66" stroke="#000" stroke-width="2"/>
<line x1="217.85" y1="176.49" x2="213.52" y2="171.65" stroke="#000" stroke-width="2"/>
<line x1="229.92" y1="166.04" x2="225.75" y2="161.05" stroke="#000" stroke-width="2"/>
<text x="184.75" y="145.08" dy="0.36em" transform="rotate(317.70 184.75 145.08)" class="cl">20</text>
<path d="M242.79,154.39 A467.5,467.5 0 0 1 276.67,130.44" fill="none" stroke="#000" stroke-width="2.3"/>
<line x1="243.40" y1="155.18" x2="236.35" y2="146.09" stroke="#000" stroke-width="2"/>
<text x="247.29" y="132.91" transform="rotate(324.19 247.29 132.91)" class="tl">0Mb</text>
<line x1="256.18" y1="145.61" x2="252.37" y2="140.34" stroke="#000" stroke-width="2"/>
<line x1="269.27" y1="136.49" x2="265.65" y2="131.09" stroke="#000" stroke-width="2"/>
<text x="233.78" y="105.70" dy="0.36em" transform="rotate(324.75 233.78 105.70)" class="cl">21</text>
<path d="M283.50,126.13 A467.5,467.5 0 0 1 323.00,104.28" fill="none" stroke="#000" stroke-width="2.3"/>
<line x1="284.02" y1="126.99" x2="277.98" y2="117.20" stroke="#000" stroke-width="2"/>
<text x="290.25" y="105.25" transform="rotate(330.27 290.25 105.25)" class="tl">0Mb</text>
<line x1="297.74" y1="118.83" x2="294.52" y2="113.18" stroke="#000" stroke-width="2"/>
<line x1="311.73" y1="111.14" x2="308.70" y2="105.39" stroke="#000" stroke-width="2"/>
<text x="281.44" y="75.79" dy="0.36em" transform="rotate(331.05 281.44 75.79)" class="cl">22</text>
<path d="M330.27,100.78 A467.5,467.5 0 0 1 462.61,61.08" fill="none" stroke="#000" stroke-width="2.3"/>
<line x1="330.70" y1="101.69" x2="325.80" y2="91.28" stroke="#000" stroke-width="2"/>
<text x="339.35" y="80.81" transform="rotate(336.79 339.35 80.81)" class="tl">0Mb</text>
<line x1="345.25" y1="95.14" x2="342.69" y2="89.17" stroke="#000" stroke-width="2"/>
<line x1="360.03" y1="89.10" x2="357.67" y2="83.04" stroke="#000" stroke-width="2"/>
<line x1="375.00" y1="83.56" x2="372.85" y2="77.42" stroke="#000" stroke-width="2"/>
<line x1="390.15" y1="78.54" x2="388.21" y2="72.33" stroke="#000" stroke-width="2"/>
<line x1="405.46" y1="74.04" x2="402.41" y2="62.95" stroke="#000" stroke-width="2"/>
<text x="401.35" y="59.09" transform="rotate(344.61 401.35 59.09)" class="tl">90Mb</text>
<line x1="420.92" y1="70.06" x2="419.41" y2="63.74" stroke="#000" stroke-width="2"/>
<line x1="436.51" y1="66.62" x2="435.21" y2="60.25" stroke="#000" stroke-width="2"/>
<line x1="452.20" y1="63.72" x2="451.13" y2="57.30" stroke="#000" stroke-width="2"/>
<text x="382.18" y="33.39" dy="0.36em" transform="rotate(343.30 382.18 33.39)" class="cl">X</text>
<path d="M470.60,60.00 A467.5,467.5 0 0 1 521.31,56.37" fill="none" stroke="#000" stroke-width="2.3"/>
<line x1="470.73" y1="60.99" x2="469.28" y2="49.58" stroke="#000" stroke-width="2"/>
<text x="485.41" y="43.80" transform="rotate(354.78 485.41 43.80)" class="tl">0Mb</text>
<line x1="486.60" y1="59.26" x2="486.00" y2="52.79" stroke="#000" stroke-width="2"/>
<line x1="502.51" y1="58.07" x2="502.14" y2="51.58" stroke="#000" stroke-width="2"/>
<line x1="518.46" y1="57.43" x2="518.31" y2="50.93" stroke="#000" stroke-width="2"/>
<text x="492.73" y="13.11" dy="0.36em" transform="rotate(355.90 492.73 13.11)" class="cl">Y</text>
<path d="M646.29,136.59 Q529.3,523.8 218.24,782.38" fill="none" stroke="#000" stroke-width="2.8"/>
<path d="M877.93,318.68 Q529.3,523.8 188.38,306.10" fill="none" stroke="#000" stroke-width="2.8"/>
<path d="M893.09,346.96 Q529.3,523.8 557.46,927.32" fill="none" stroke="#000" stroke-width="2.8"/>
<path d="M900.28,362.57 Q529.3,523.8 838.76,784.29" fill="none" stroke="#000" stroke-width="2.8"/>
<path d="M159.94,358.90 Q529.3,523.8 545.03,927.99" fill="none" stroke="#000" stroke-width="2.8"/>
<path d="M138.03,421.21 Q529.3,523.8 127.84,573.33" fill="none" stroke="#000" stroke-width="2.8"/>
<path d="M202.66,285.21 Q529.3,523.8 124.95,534.79" fill="none" stroke="#000" stroke-width="2.8"/>
<path d="M127.84,573.33 Q529.3,523.8 127.74,572.49" fill="none" stroke="#000" stroke-width="2.8"/>
<path d="M331.52,170.95 Q529.3,523.8 332.26,170.54" fill="none" stroke="#000" stroke-width="2.8"/>
<path d="M297.74,192.13 Q529.3,523.8 124.81,526.30" fill="none" stroke="#df7e44" stroke-width="2.4"/>
<path d="M158.34,362.53 Q529.3,523.8 139.98,633.59" fill="none" stroke="#df7e44" stroke-width="2.4"/>
<path d="M598.38,125.24 Q529.3,523.8 611.11,127.66" fill="none" stroke="#d4424b" stroke-width="2.6"/>
<path d="M597.97,125.17 Q529.3,523.8 599.92,125.51" fill="none" stroke="#d4424b" stroke-width="2.5"/>
<path d="M706.03,159.95 Q529.3,523.8 706.79,160.32" fill="none" stroke="#70b05a" stroke-width="2.5"/>
<path d="M874.75,313.37 Q529.3,523.8 875.19,314.09" fill="none" stroke="#d4424b" stroke-width="2.6"/>
<path d="M933.71,532.50 Q529.3,523.8 933.69,533.35" fill="none" stroke="#d4424b" stroke-width="2.6"/>
<path d="M930.63,574.35 Q529.3,523.8 930.52,575.19" fill="none" stroke="#d4424b" stroke-width="2.6"/>
<path d="M924.34,610.79 Q529.3,523.8 924.15,611.61" fill="none" stroke="#d4424b" stroke-width="2.6"/>
<path d="M887.23,712.23 Q529.3,523.8 886.84,712.98" fill="none" stroke="#70b05a" stroke-width="2.5"/>
<path d="M739.43,869.44 Q529.3,523.8 769.51,849.25" fill="none" stroke="#3f599f" stroke-width="2.7"/>
<path d="M583.09,924.71 Q529.3,523.8 619.45,918.13" fill="none" stroke="#3f599f" stroke-width="2.7"/>
<path d="M583.09,924.71 Q529.3,523.8 587.49,924.09" fill="none" stroke="#3f599f" stroke-width="2.7"/>
<path d="M572.22,926.02 Q529.3,523.8 571.38,926.11" fill="none" stroke="#d4424b" stroke-width="2.6"/>
<path d="M546.64,927.93 Q529.3,523.8 544.52,928.01" fill="none" stroke="#d4424b" stroke-width="2.5"/>
<path d="M539.43,928.17 Q529.3,523.8 538.58,928.19" fill="none" stroke="#d4424b" stroke-width="2.6"/>
<path d="M490.93,926.48 Q529.3,523.8 490.08,926.39" fill="none" stroke="#d4424b" stroke-width="2.6"/>
<path d="M471.00,924.08 Q529.3,523.8 470.16,923.95" fill="none" stroke="#d4424b" stroke-width="2.6"/>
<path d="M308.17,862.50 Q529.3,523.8 307.46,862.04" fill="none" stroke="#70b05a" stroke-width="2.5"/>
<path d="M281.96,843.87 Q529.3,523.8 281.29,843.35" fill="none" stroke="#d4424b" stroke-width="2.6"/>
<path d="M223.50,788.58 Q529.3,523.8 222.95,787.94" fill="none" stroke="#3f599f" stroke-width="2.7"/>
<path d="M150.33,665.24 Q529.3,523.8 150.04,664.44" fill="none" stroke="#d4424b" stroke-width="2.6"/>
<path d="M139.15,630.57 Q529.3,523.8 140.85,636.60" fill="none" stroke="#3f599f" stroke-width="2.7"/>
<path d="M134.82,613.26 Q529.3,523.8 134.63,612.44" fill="none" stroke="#d4424b" stroke-width="2.6"/>
<path d="M125.33,544.47 Q529.3,523.8 125.29,543.62" fill="none" stroke="#70b05a" stroke-width="2.5"/>
<path d="M127.72,475.25 Q529.3,523.8 127.83,474.41" fill="none" stroke="#d4424b" stroke-width="2.6"/>
<path d="M150.55,381.79 Q529.3,523.8 147.69,389.67" fill="none" stroke="#3f599f" stroke-width="2.7"/>
<path d="M192.81,299.31 Q529.3,523.8 193.28,298.60" fill="none" stroke="#70b05a" stroke-width="2.5"/>
<path d="M201.05,287.42 Q529.3,523.8 201.55,286.74" fill="none" stroke="#d4424b" stroke-width="2.7"/>
<path d="M243.73,237.33 Q529.3,523.8 244.33,236.73" fill="none" stroke="#d4424b" stroke-width="2.6"/>
<path d="M267.64,215.33 Q529.3,523.8 268.29,214.78" fill="none" stroke="#d4424b" stroke-width="2.6"/>
<path d="M361.97,155.53 Q529.3,523.8 362.74,155.18" fill="none" stroke="#d4424b" stroke-width="2.6"/>
<rect x="2.0" y="1159.6" width="70.2" height="34.7" fill="#e8213a" stroke="#111" stroke-width="4"/>
<text x="89.5" y="1189.9" class="lt">SV Deletion</text>
<rect x="342.3" y="1162.2" width="67.4" height="34.1" fill="#18a950" stroke="#111" stroke-width="4"/>
<text x="428.0" y="1190.0" class="lt">Duplication</text>
<rect x="659.8" y="1165.2" width="69.2" height="34.1" fill="#1a6cb5" stroke="#111" stroke-width="4"/>
<text x="748.0" y="1194.5" class="lt">Inversion</text>
<rect x="951.5" y="1162.9" width="69.2" height="36.2" fill="#000000" stroke="#111" stroke-width="4"/>
<text x="1049.3" y="1194.2" class="lt">Translocation</text>
<rect x="3.3" y="1231.3" width="70.2" height="34.1" fill="#a0a1a0" stroke="#111" stroke-width="4"/>
<text x="90.7" y="1261.8" class="lt">Chromoplexy</text>
<rect x="343.3" y="1232.0" width="68.7" height="37.0" fill="#6ca6d8" stroke="#111" stroke-width="4"/>
<text x="431.0" y="1262.3" class="lt">CNV Gain</text>
<rect x="659.3" y="1230.8" width="67.7" height="35.4" fill="#ea9b8c" stroke="#111" stroke-width="4"/>
<text x="746.2" y="1262.3" class="lt">CNV Deletion</text>
</svg>

</body></html>
